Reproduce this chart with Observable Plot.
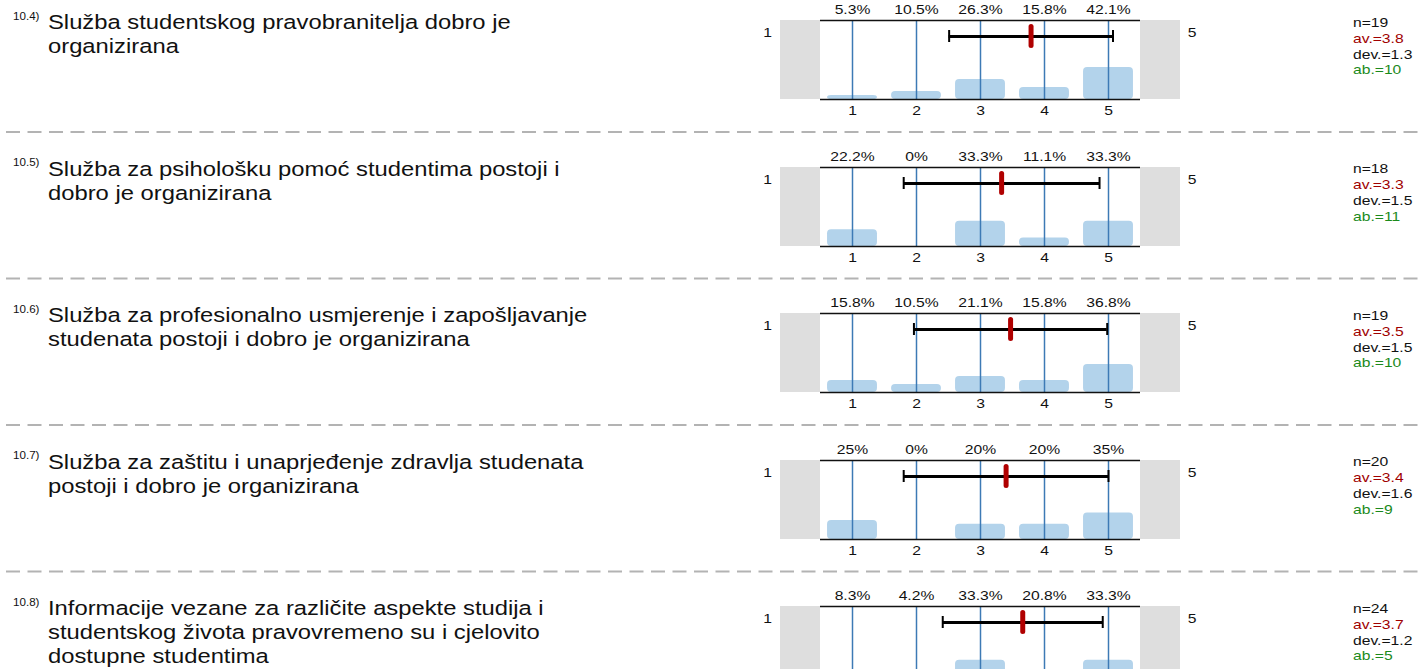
<!DOCTYPE html>
<html>
<head>
<meta charset="utf-8">
<script src="https://cdn.jsdelivr.net/npm/d3@7"></script>
<script src="https://cdn.jsdelivr.net/npm/@observablehq/plot@0.6"></script>
<style>
  body { margin: 0; background: #fff; }
  #root { position: relative; width: 1419px; height: 669px; overflow: hidden;
          font-family: "Liberation Sans", Arial, sans-serif; color: #111; }
  .stretch { position: absolute; white-space: nowrap; transform-origin: 0 0; }
  .num { font-size: 10px; line-height: 12px; }
  .title { font-size: 20.5px; line-height: 24px; }
  .stats { font-size: 13.5px; line-height: 15.9px; }
  .panel { position: absolute; }
</style>
</head>
<body>
<div id="root"></div>
<script>
// ---------------- data ----------------
const itemNumbers = ["10.4)", "10.5)", "10.6)", "10.7)", "10.8)"];
const itemTitles = [
  ["Služba studentskog pravobranitelja dobro je", "organizirana"],
  ["Služba za psihološku pomoć studentima postoji i", "dobro je organizirana"],
  ["Služba za profesionalno usmjerenje i zapošljavanje", "studenata postoji i dobro je organizirana"],
  ["Služba za zaštitu i unaprjeđenje zdravlja studenata", "postoji i dobro je organizirana"],
  ["Informacije vezane za različite aspekte studija i", "studentskog života pravovremeno su i cjelovito", "dostupne studentima"]
];
const categories = [1, 2, 3, 4, 5];
const tickLabels = ["1", "2", "3", "4", "5"];
const scaleEnds = ["1", "5"];
const percents = [
  [5.3, 10.5, 26.3, 15.8, 42.1],
  [22.2, 0, 33.3, 11.1, 33.3],
  [15.8, 10.5, 21.1, 15.8, 36.8],
  [25, 0, 20, 20, 35],
  [8.3, 4.2, 33.3, 20.8, 33.3]
];
const means = [3.79, 3.33, 3.47, 3.40, 3.66];
const sds = [1.28, 1.53, 1.51, 1.60, 1.25];
const nLabels = ["19", "18", "19", "20", "24"];
const avLabels = ["3.8", "3.3", "3.5", "3.4", "3.7"];
const devLabels = ["1.3", "1.5", "1.5", "1.6", "1.2"];
const abLabels = ["10", "11", "10", "9", "5"];

// ---------------- layout ----------------
const S = 1.16;              // horizontal text stretch of the original
const FONT = '"Liberation Sans", Arial, sans-serif';
const root = document.getElementById("root");
const rowTop = i => 20 + i * 146.5;

// dashed separators
const sep = d3.select(root).append("svg")
  .attr("width", 1419).attr("height", 669)
  .style("position", "absolute").style("left", 0).style("top", 0);
for (let i = 0; i < itemNumbers.length - 1; i++) {
  sep.append("line")
    .attr("x1", 6).attr("x2", 1419)
    .attr("y1", rowTop(i) + 112).attr("y2", rowTop(i) + 112)
    .attr("stroke", "#b3b3b3").attr("stroke-width", 2)
    .attr("stroke-dasharray", "14 7.5");
}

function addDiv(cls, left, top, lines, colors) {
  const d = document.createElement("div");
  d.className = "stretch " + cls;
  d.style.left = left + "px";
  d.style.top = top + "px";
  d.style.transform = `scaleX(${S})`;
  lines.forEach((t, k) => {
    const l = document.createElement("div");
    l.textContent = t;
    if (colors) l.style.color = colors[k];
    d.appendChild(l);
  });
  root.appendChild(d);
}

const yMax = 104;
const pxY = yMax / 79;
const yErr = yMax - 16 * pxY;
const pad = 40 / 64;

itemNumbers.forEach((num, i) => {
  const T = rowTop(i);
  addDiv("num", 13, T - 9.5, [num]);
  addDiv("title", 48, T - 9.6, itemTitles[i]);
  addDiv("stats", 1353, T - 5.3,
    ["n=" + nLabels[i], "av.=" + avLabels[i], "dev.=" + devLabels[i], "ab.=" + abLabels[i]],
    ["#111", "#a00000", "#111", "#1b8a1b"]);

  const rows = categories.map((c, j) => ({v: c, pct: percents[i][j], label: tickLabels[j]}));
  const lo = means[i] - sds[i], hi = means[i] + sds[i];
  const chart = Plot.plot({
    width: 460, height: 120,
    marginLeft: 60, marginRight: 80, marginTop: 20, marginBottom: 21,
    x: {domain: [0.5, 5.5], axis: null},
    y: {domain: [0, yMax], axis: null},
    style: {fontFamily: FONT, fontSize: "13.5px", color: "#111", background: "transparent"},
    marks: [
      Plot.rect([[0.5 - pad, 0.5], [5.5, 5.5 + pad]], {x1: d => d[0], x2: d => d[1], y1: 0, y2: yMax, fill: "#dedede"}),
      Plot.rect(rows, {x1: d => d.v - 0.39, x2: d => d.v + 0.39, y1: 0, y2: "pct", fill: "#b3d3eb", rx: 4}),
      Plot.ruleX(categories, {stroke: "#3d7ab5", strokeWidth: 1.5}),
      Plot.ruleY([0, yMax], {stroke: "#111", strokeWidth: 1.6}),
      Plot.ruleY([0], {y: yErr, x1: lo, x2: hi, stroke: "#000", strokeWidth: 3}),
      Plot.ruleX([lo, hi], {x: d => d, y1: yErr - 6 * pxY, y2: yErr + 6 * pxY, stroke: "#000", strokeWidth: 2}),
      Plot.ruleX([means[i]], {x: d => d, y1: yErr - 9.5 * pxY, y2: yErr + 9.5 * pxY, stroke: "#b00000", strokeWidth: 5, strokeLinecap: "round"}),
      Plot.text(rows, {x: "v", text: d => `${d.pct}%`, frameAnchor: "top", dy: -11, lineAnchor: "middle", textAnchor: "middle", fontSize: 13.5, fill: "#111"}),
      Plot.text(rows, {x: "v", text: "label", frameAnchor: "bottom", dy: 11.5, lineAnchor: "middle", textAnchor: "middle", fontSize: 13.5, fill: "#111"}),
      Plot.text([scaleEnds[0]], {text: d => d, frameAnchor: "top-left", dx: -53, dy: 11.7, textAnchor: "middle", lineAnchor: "middle", fontSize: 13.5, fill: "#111"}),
      Plot.text([scaleEnds[1]], {text: d => d, frameAnchor: "top-right", dx: 51.7, dy: 11.7, textAnchor: "middle", lineAnchor: "middle", fontSize: 13.5, fill: "#111"})
    ]
  });
  const wrap = document.createElement("div");
  wrap.className = "panel";
  wrap.style.left = "760px";
  wrap.style.top = (T - 20) + "px";
  chart.style.maxWidth = "none";
  wrap.appendChild(chart);
  root.appendChild(wrap);
  // stretch texts horizontally like the original (keeps their positions)
  chart.querySelectorAll("text").forEach(t => {
    const L = t.getComputedTextLength();
    if (L > 0) {
      t.setAttribute("textLength", (L * S).toFixed(2));
      t.setAttribute("lengthAdjust", "spacingAndGlyphs");
    }
  });
});
</script>
</body>
</html>
